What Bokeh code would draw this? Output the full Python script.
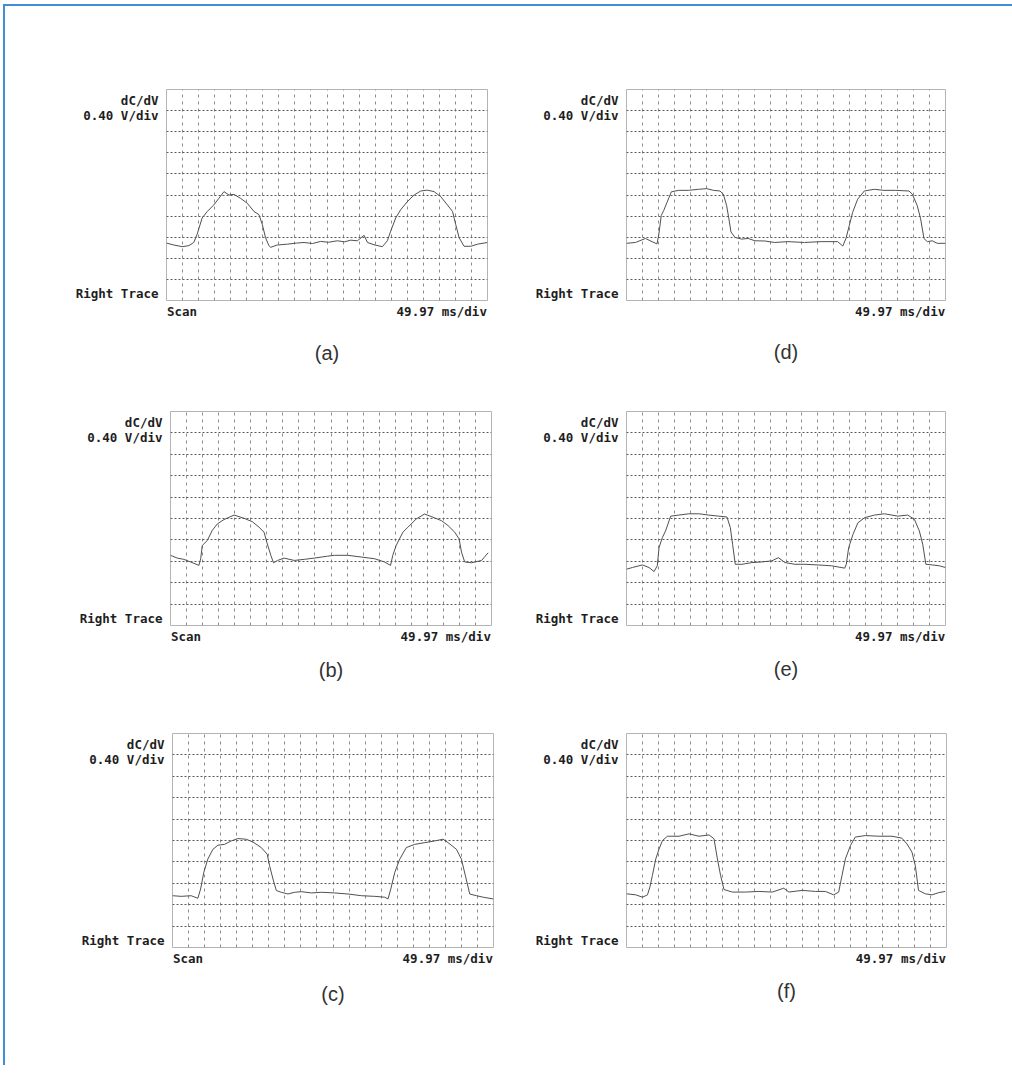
from bokeh.plotting import figure
from bokeh.models import Range1d, Grid, FixedTicker, LinearAxis, Spacer
from bokeh.layouts import column, row
from bokeh.embed import file_html
from bokeh.resources import INLINE

# ---- data (time and signal in screen divisions: 49.97 ms/div, 0.40 V/div) ----
X_DIV_TICKS = list(range(1, 20))
Y_DIV_TICKS = list(range(1, 10))
CAPTIONS = ["(a)", "(b)", "(c)", "(d)", "(e)", "(f)"]
TIME_LABEL = "49.97 ms/div"
VOLT_LABEL = "0.40 V/div"
SIGNAL_LABEL = "dC/dV"
TRACE_LABEL = "Right Trace"
SCAN_LABEL = "Scan"

a_t = [0.0, 0.46, 0.98, 1.39, 1.70, 1.91, 2.22, 2.54, 2.95, 3.26, 3.58, 3.89, 4.20, 4.62, 5.03, 5.45,
       5.76, 5.97, 6.17, 6.38, 6.49, 6.90, 7.53, 8.10, 8.57, 9.10, 9.60, 10.10, 10.64, 11.10, 11.48,
       11.89, 12.31, 12.52, 12.93, 13.45, 13.76, 13.97, 14.28, 14.59, 15.01, 15.43, 15.84, 16.26,
       16.67, 17.09, 17.50, 17.82, 18.02, 18.23, 18.54, 18.96, 19.38, 20.0]
a_y = [2.72, 2.63, 2.55, 2.60, 2.75, 3.14, 3.91, 4.22, 4.53, 4.84, 5.16, 5.00, 5.03, 4.84, 4.61, 4.22,
       4.07, 3.60, 2.98, 2.60, 2.52, 2.63, 2.67, 2.72, 2.75, 2.70, 2.80, 2.76, 2.83, 2.78, 2.86,
       2.83, 3.09, 2.75, 2.64, 2.55, 2.83, 3.29, 3.91, 4.30, 4.69, 5.00, 5.19, 5.23,
       5.16, 4.92, 4.53, 4.22, 3.60, 2.98, 2.57, 2.57, 2.67, 2.75]

b_t = [0.0, 0.42, 0.83, 1.25, 1.77, 1.88, 1.98, 2.29, 2.60, 2.92, 3.33, 3.96, 4.58, 5.10, 5.52, 5.83,
       6.00, 6.25, 6.42, 6.67, 7.08, 7.71, 8.33, 8.96, 9.79, 10.21, 11.04, 11.88, 12.71, 13.33, 13.71,
       13.85, 14.06, 14.48, 14.79, 15.31, 15.83, 16.35, 16.88, 17.29, 17.71, 17.98, 18.13, 18.33,
       18.75, 19.38, 19.79]
b_y = [3.28, 3.15, 3.09, 2.97, 2.81, 3.12, 3.74, 3.97, 4.44, 4.75, 4.95, 5.16, 5.01, 4.85, 4.59, 4.36,
       3.89, 3.28, 2.93, 3.04, 3.15, 3.04, 3.09, 3.15, 3.24, 3.28, 3.28, 3.20, 3.12, 2.97, 2.81,
       3.28, 3.74, 4.36, 4.59, 4.98, 5.21, 5.06, 4.90, 4.67, 4.36, 4.05, 3.43, 2.97,
       2.93, 3.04, 3.40]

c_t = [0.0, 0.54, 1.16, 1.58, 1.75, 1.95, 2.20, 2.52, 2.83, 3.24, 3.66, 4.07, 4.59, 5.01, 5.53, 5.90,
       6.05, 6.26, 6.47, 6.78, 7.19, 7.61, 8.02, 8.65, 9.27, 10.10, 10.94, 11.77, 12.60, 13.22, 13.43,
       13.60, 13.85, 14.16, 14.57, 15.09, 15.72, 16.34, 16.86, 17.17, 17.69, 18.00, 18.25, 18.52,
       18.94, 19.36, 19.98]
c_y = [2.42, 2.39, 2.42, 2.30, 2.73, 3.51, 4.13, 4.59, 4.78, 4.82, 4.98, 5.09, 5.06, 4.93, 4.67, 4.36,
       3.82, 3.20, 2.66, 2.58, 2.50, 2.58, 2.61, 2.55, 2.58, 2.55, 2.50, 2.42, 2.39, 2.35, 2.27,
       2.73, 3.51, 4.13, 4.67, 4.82, 4.90, 4.98, 5.06, 4.90, 4.59, 4.13, 3.35, 2.50,
       2.42, 2.35, 2.27]

d_t = [0.0, 0.56, 1.19, 1.60, 1.91, 2.02, 2.18, 2.33, 2.54, 2.81, 3.26, 3.89, 4.51, 5.03, 5.45, 5.86,
       6.07, 6.28, 6.42, 6.55, 6.80, 7.21, 7.63, 8.05, 8.67, 9.29, 10.12, 11.16, 12.20, 13.24, 13.56,
       13.76, 13.97, 14.18, 14.49, 14.91, 15.53, 16.15, 16.88, 17.71, 17.92, 18.23, 18.44, 18.65,
       18.86, 19.17, 19.48, 20.0]
d_y = [2.71, 2.75, 2.94, 2.79, 2.68, 3.10, 4.03, 4.26, 4.65, 5.15, 5.22, 5.22, 5.27, 5.30, 5.22, 5.19,
       5.04, 4.49, 3.87, 3.25, 2.99, 2.91, 2.94, 2.83, 2.82, 2.75, 2.79, 2.75, 2.79, 2.79, 2.58,
       2.94, 3.56, 4.18, 4.80, 5.19, 5.27, 5.22, 5.22, 5.19, 5.04, 4.49, 3.87, 2.94,
       2.79, 2.83, 2.71, 2.71]

e_t = [0.0, 0.37, 1.00, 1.41, 1.73, 1.93, 2.04, 2.25, 2.45, 2.77, 3.28, 3.91, 4.53, 5.16, 5.78, 6.30,
       6.51, 6.65, 6.82, 7.24, 7.86, 8.48, 9.11, 9.52, 9.94, 10.56, 11.19, 12.02, 12.85, 13.68, 13.78,
       13.93, 14.20, 14.51, 14.93, 15.55, 16.17, 17.01, 17.63, 18.05, 18.36, 18.57, 18.77, 19.19,
       19.61, 20.0]
e_y = [2.63, 2.71, 2.83, 2.71, 2.52, 2.79, 3.64, 4.11, 4.42, 5.11, 5.16, 5.22, 5.22, 5.16, 5.11, 5.07,
       4.57, 3.80, 2.86, 2.86, 2.94, 2.97, 3.02, 3.17, 2.94, 2.86, 2.86, 2.83, 2.79, 2.68, 2.86,
       3.64, 4.26, 4.80, 5.04, 5.16, 5.22, 5.11, 5.16, 4.96, 4.42, 3.80, 2.86, 2.83,
       2.79, 2.71]

f_t = [0.0, 0.58, 1.00, 1.31, 1.46, 1.62, 1.83, 2.04, 2.25, 2.56, 3.28, 3.91, 4.53, 5.16, 5.47, 5.68,
       5.88, 6.09, 6.61, 7.44, 8.27, 9.11, 9.83, 10.15, 10.98, 11.81, 12.43, 12.95, 13.26, 13.47,
       13.68, 14.00, 14.30, 14.93, 15.76, 16.59, 17.21, 17.53, 17.84, 18.05, 18.25, 18.67, 19.09,
       19.50, 19.92]
f_y = [2.51, 2.46, 2.35, 2.46, 2.82, 3.37, 4.14, 4.61, 5.00, 5.20, 5.20, 5.31, 5.20, 5.26, 5.08, 4.14,
       3.37, 2.71, 2.59, 2.59, 2.62, 2.59, 2.77, 2.59, 2.67, 2.62, 2.62, 2.46, 2.59, 3.37,
       4.14, 4.77, 5.16, 5.23, 5.20, 5.20, 5.11, 4.84, 4.46, 3.83, 2.67, 2.51, 2.46,
       2.56, 2.62]

# positions (in divisions) of the instrument's text annotations around each screen
LEFT_TEXT_POS = {9.49: SIGNAL_LABEL, 8.79: VOLT_LABEL, 0.33: TRACE_LABEL}
SCAN_POS = 0.97
TIME_POS = 17.15

MONO = "DejaVu Sans Mono"
FRAME_W, FRAME_H = 321, 215


def style_text_axis(ax):
    ax.axis_line_color = None
    ax.major_tick_line_color = None
    ax.minor_tick_line_color = None
    ax.major_tick_out = 0
    ax.major_tick_in = 0
    ax.minor_tick_out = 0
    ax.minor_tick_in = 0
    ax.major_label_text_font = MONO
    ax.major_label_text_font_style = "bold"
    ax.major_label_text_font_size = "12.5px"
    ax.major_label_text_color = "#1e1e1e"


def make_panel(t, y, caption, left, right, top, bottom, scan, cap_standoff):
    p = figure(width=left + FRAME_W + right, height=top + FRAME_H + bottom,
               x_range=Range1d(0, 20), y_range=Range1d(0, 10),
               x_axis_type=None, y_axis_type=None,
               toolbar_location=None, output_backend="svg",
               min_border_left=left, min_border_right=right,
               min_border_top=top, min_border_bottom=bottom)
    p.outline_line_color = "#b4b4b4"
    p.outline_line_width = 1
    p.background_fill_color = "white"
    p.border_fill_color = "white"

    p.add_layout(Grid(dimension=0, ticker=FixedTicker(ticks=X_DIV_TICKS),
                      grid_line_color="#8c8c8c", grid_line_dash="3 4", grid_line_width=1))
    p.add_layout(Grid(dimension=1, ticker=FixedTicker(ticks=Y_DIV_TICKS),
                      grid_line_color="#5a5a5a", grid_line_dash="2 2", grid_line_width=1))

    p.line(t, y, line_color="#505050", line_width=1)

    yax = LinearAxis(ticker=FixedTicker(ticks=list(LEFT_TEXT_POS.keys())),
                     major_label_overrides=dict(LEFT_TEXT_POS))
    style_text_axis(yax)
    yax.major_label_standoff = 8
    p.add_layout(yax, "left")

    bottom_pos = {TIME_POS: TIME_LABEL}
    if scan:
        bottom_pos[SCAN_POS] = SCAN_LABEL
    xax = LinearAxis(ticker=FixedTicker(ticks=sorted(bottom_pos.keys())),
                     major_label_overrides=bottom_pos, axis_label=caption)
    style_text_axis(xax)
    xax.major_label_standoff = 3
    xax.axis_label_standoff = cap_standoff
    xax.axis_label_text_font = "Liberation Sans"
    xax.axis_label_text_font_style = "normal"
    xax.axis_label_text_font_size = "20px"
    xax.axis_label_text_color = "#333333"
    p.add_layout(xax, "below")
    return p


fa = make_panel(a_t, a_y, CAPTIONS[0], 161, 45, 83, 62, True, 20)
fd = make_panel(d_t, d_y, CAPTIONS[3], 92, 50, 82, 63, False, 19)
fb = make_panel(b_t, b_y, CAPTIONS[1], 165, 41, 45, 62, True, 12)
fe = make_panel(e_t, e_y, CAPTIONS[4], 92, 50, 44, 63, False, 11)
fc = make_panel(c_t, c_y, CAPTIONS[2], 167, 39, 45, 62, True, 14)
ff = make_panel(f_t, f_y, CAPTIONS[5], 93, 49, 44, 63, False, 11)

root = column(row(fa, fd, Spacer(width=17, height=10)), row(fb, fe), row(fc, ff),
              Spacer(width=10, height=55),
              margin=(4, 0, 0, 3),
              styles={"border-top": "2px solid #3f8fd6", "border-left": "2px solid #3f8fd6",
                      "background-color": "white"})

open("out.html", "w").write(file_html(root, INLINE, title="dC/dV traces"))
